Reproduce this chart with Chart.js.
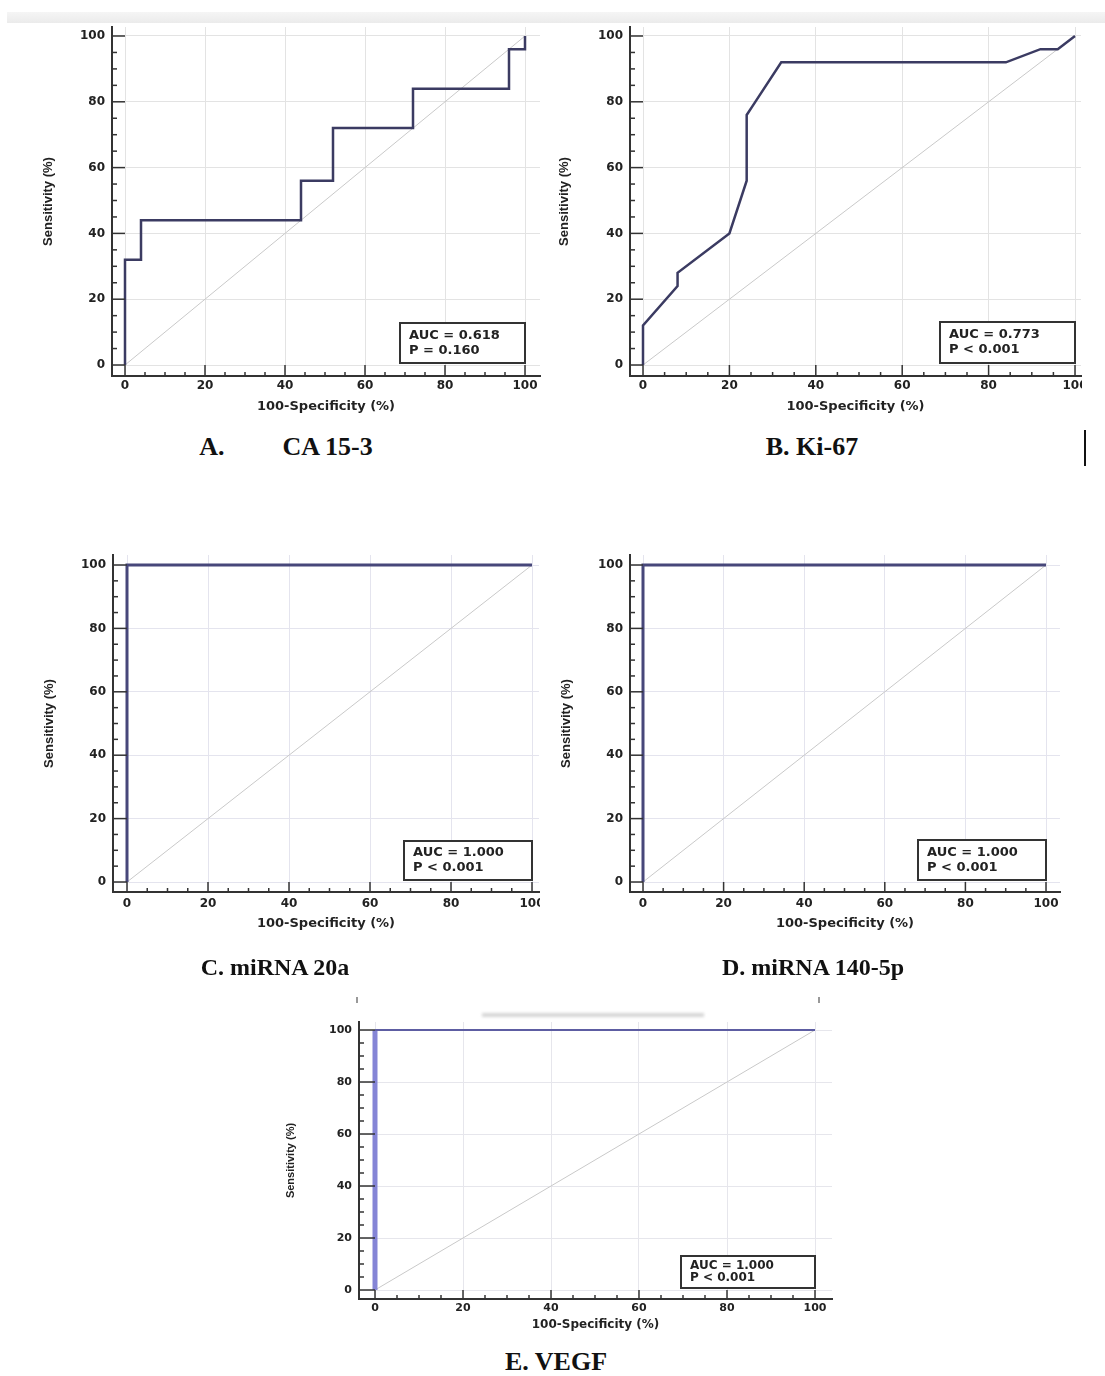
<!DOCTYPE html>
<html>
<head>
<meta charset="utf-8">
<script src="https://cdn.jsdelivr.net/npm/chart.js@4.4.1/dist/chart.umd.min.js"></script>
<style>
  body { margin: 0; background: #fff; width: 1105px; height: 1376px; position: relative; overflow: hidden; }
  canvas { position: absolute; }
  .cap { position: absolute; font-family: "Liberation Serif", serif; font-weight: bold; color: #111; white-space: pre; transform: translateX(-50%); line-height: 1; }
  #band { position: absolute; left: 7px; right: 0; top: 12px; height: 11px; background: linear-gradient(#f5f5f5, #ebebeb); }
  #bar { position: absolute; left: 1084px; top: 430px; width: 2px; height: 36px; background: #111; }
  .fleck { position: absolute; background: #999; width: 2px; height: 6px; }
  #smudge { position: absolute; left: 482px; top: 1013px; width: 222px; height: 4px; background: #d6d6d6; filter: blur(1.5px); }
</style>
</head>
<body>
<div id="band"></div>
<div id="bar"></div>
<div class="fleck" style="left:356px;top:997px"></div>
<div class="fleck" style="left:818px;top:997px"></div>
<div id="smudge"></div>

<canvas id="chartA" width="550" height="425" style="left:0px;top:0px"></canvas>
<canvas id="chartB" width="542" height="425" style="left:540px;top:0px"></canvas>
<canvas id="chartC" width="540" height="425" style="left:0px;top:530px"></canvas>
<canvas id="chartD" width="560" height="425" style="left:540px;top:530px"></canvas>
<canvas id="chartE" width="590" height="330" style="left:250px;top:1010px"></canvas>

<div class="cap" style="left:286px;top:434px;font-size:26px">A.<span style="display:inline-block;width:58px"></span>CA 15-3</div>
<div class="cap" style="left:812px;top:434px;font-size:26px">B. Ki-67</div>
<div class="cap" style="left:275px;top:955px;font-size:24px">C. miRNA 20a</div>
<div class="cap" style="left:813px;top:955px;font-size:24px">D. miRNA 140-5p</div>
<div class="cap" style="left:556px;top:1349px;font-size:26px">E. VEGF</div>

<script>
// ---- data ----
const tickValues = [0, 20, 40, 60, 80, 100];
const chanceX = [0, 100];
const chanceY = [0, 100];

const ca153X = [0, 0, 4, 4, 44, 44, 52, 52, 72, 72, 96, 96, 100, 100];
const ca153Y = [0, 32, 32, 44, 44, 56, 56, 72, 72, 84, 84, 96, 96, 100];

const ki67X = [0, 0, 8, 8, 20, 24, 24, 25.5, 32, 84, 92, 96, 100];
const ki67Y = [0, 12, 24, 28, 40, 56, 76, 79, 92, 92, 96, 96, 100];

const mir20aX = [0, 0, 100];
const mir20aY = [0, 100, 100];

const mir140X = [0, 0, 100];
const mir140Y = [0, 100, 100];

const vegfX = [0, 0, 100];
const vegfY = [0, 100, 100];

const aucText = ['AUC = 0.618', 'AUC = 0.773', 'AUC = 1.000', 'AUC = 1.000', 'AUC = 1.000'];
const pText = ['P = 0.160', 'P < 0.001', 'P < 0.001', 'P < 0.001', 'P < 0.001'];

const xTitle = '100-Specificity (%)';
const yTitle = 'Sensitivity (%)';

// ---- page layout of each panel (page pixels) ----
const panels = [
  { id: 'chartA', left: 0, top: 0, w: 550, h: 425, axisX: 112, x0: 125, x100: 525, right: 540,
    axisY: 376, y0: 365, y100: 36, topY: 27, tickCY: 386, titleCY: 407, yTitleCX: 48,
    box: [125, 40], curve: '#3b3b62', curveW: 2.5, grid: '#e3e3e3', tickFont: 12, boxFont: 13, titleFont: 13, yFont: 13,
    xs: ca153X, ys: ca153Y },
  { id: 'chartB', left: 540, top: 0, w: 542, h: 425, axisX: 630, x0: 643, x100: 1075, right: 1081,
    axisY: 376, y0: 365, y100: 36, topY: 27, tickCY: 386, titleCY: 407, yTitleCX: 564,
    box: [135, 41], curve: '#3b3b62', curveW: 2.5, grid: '#e3e3e3', tickFont: 12, boxFont: 13, titleFont: 13, yFont: 13,
    xs: ki67X, ys: ki67Y },
  { id: 'chartC', left: 0, top: 530, w: 540, h: 425, axisX: 113, x0: 127, x100: 532, right: 539,
    axisY: 892, y0: 882, y100: 565, topY: 555, tickCY: 904, titleCY: 924, yTitleCX: 49,
    box: [128, 39], curve: '#47477a', curveW: 3, grid: '#e4e4ee', tickFont: 12, boxFont: 13, titleFont: 13, yFont: 13,
    xs: mir20aX, ys: mir20aY },
  { id: 'chartD', left: 540, top: 530, w: 560, h: 425, axisX: 630, x0: 643, x100: 1046, right: 1060,
    axisY: 892, y0: 882, y100: 565, topY: 555, tickCY: 904, titleCY: 924, yTitleCX: 566,
    box: [128, 40], curve: '#47477a', curveW: 3, grid: '#e4e4ee', tickFont: 12, boxFont: 13, titleFont: 13, yFont: 13,
    xs: mir140X, ys: mir140Y },
  { id: 'chartE', left: 250, top: 1010, w: 590, h: 330, axisX: 359, x0: 375, x100: 815, right: 832,
    axisY: 1299, y0: 1290, y100: 1030, topY: 1022, tickCY: 1308, titleCY: 1325, yTitleCX: 291,
    box: [134, 32], curve: '#5d5da2', curveW: 2, vertCurve: '#8585d6', vertW: 5, grid: '#e6e6ec',
    tickFont: 11, boxFont: 12, titleFont: 12, yFont: 11,
    xs: vegfX, ys: vegfY }
];

const axisColor = '#333';
const labelColor = '#222';

// inward tick marks and the AUC box
const rocDecor = {
  id: 'rocDecor',
  afterDatasetsDraw(chart, args, opts) {
    const { ctx, chartArea: ca } = chart;
    const x = chart.scales.x, y = chart.scales.y;
    ctx.save();
    ctx.strokeStyle = axisColor;
    ctx.lineWidth = 1.5;
    for (let v = 0; v <= 100; v += 5) {
      const major = v % 20 === 0;
      const px = x.getPixelForValue(v);
      const lx = major ? ca.bottom - y.getPixelForValue(0) : 4;
      ctx.beginPath(); ctx.moveTo(px, ca.bottom); ctx.lineTo(px, ca.bottom - lx); ctx.stroke();
      const py = y.getPixelForValue(v);
      const ly = major ? x.getPixelForValue(0) - ca.left : 5;
      ctx.beginPath(); ctx.moveTo(ca.left, py); ctx.lineTo(ca.left + ly, py); ctx.stroke();
    }
    const [bw, bh] = opts.box;
    const bx = x.getPixelForValue(100) - bw;
    const by = y.getPixelForValue(0) - 2 - bh;
    ctx.fillStyle = '#fff';
    ctx.fillRect(bx, by, bw, bh);
    ctx.lineWidth = 2;
    ctx.strokeRect(bx, by, bw, bh);
    ctx.fillStyle = labelColor;
    ctx.font = 'bold ' + opts.boxFont + 'px "DejaVu Sans"';
    ctx.textBaseline = 'middle';
    ctx.textAlign = 'left';
    const gap = bh > 35 ? 15 : 12;
    const mid = by + bh / 2;
    ctx.fillText(opts.auc, bx + 9, mid - gap / 2);
    ctx.fillText(opts.p, bx + 9, mid + gap / 2);
    ctx.restore();
  }
};

panels.forEach((p, i) => {
  const pxX = (p.x100 - p.x0) / 100;
  const pxY = (p.y0 - p.y100) / 100;
  const xMin = -(p.x0 - p.axisX) / pxX;
  const xMax = 100 + (p.right - p.x100) / pxX;
  const yMin = -(p.axisY - p.y0) / pxY;
  const yMax = 100 + (p.y100 - p.topY) / pxY;
  const tickLH = p.tickFont * 1.2;
  const titleLH = p.titleFont * 1.2;
  const yLH = p.yFont * 1.2;
  const canvasBottom = p.top + p.h;

  // vertical pieces of the VEGF curve are drawn wider and lighter
  const isVert = c => c.p0.parsed.x === c.p1.parsed.x;
  const segment = p.vertCurve ? {
    borderColor: c => isVert(c) ? p.vertCurve : p.curve,
    borderWidth: c => isVert(c) ? p.vertW : p.curveW
  } : undefined;

  const ctx = document.getElementById(p.id).getContext('2d');
  new Chart(ctx, {
    type: 'scatter',
    data: {
      datasets: [
        { data: p.xs.map((v, k) => ({ x: v, y: p.ys[k] })), showLine: true, borderColor: p.curve,
          borderWidth: p.curveW, pointRadius: 0, tension: 0, borderJoinStyle: 'miter', segment: segment },
        { data: chanceX.map((v, k) => ({ x: v, y: chanceY[k] })), showLine: true, borderColor: '#c9c9c9',
          borderWidth: 1, pointRadius: 0 }
      ]
    },
    options: {
      responsive: false,
      animation: false,
      events: [],
      layout: { padding: { top: p.topY - p.top, right: p.left + p.w - p.right, left: 0, bottom: 0 } },
      plugins: {
        legend: { display: false },
        tooltip: { enabled: false },
        rocDecor: { box: p.box, auc: aucText[i], p: pText[i], boxFont: p.boxFont }
      },
      scales: {
        x: {
          type: 'linear', min: xMin, max: xMax,
          afterBuildTicks: s => { s.ticks = tickValues.map(v => ({ value: v })); },
          afterFit: s => { s.height = canvasBottom - p.axisY; s.paddingLeft = 0; s.paddingRight = 0; },
          ticks: { color: labelColor, padding: p.tickCY - p.axisY - tickLH / 2,
                   font: { family: 'DejaVu Sans', weight: 'bold', size: p.tickFont }, maxRotation: 0, autoSkip: false },
          grid: { color: p.grid, lineWidth: 1, drawTicks: false },
          border: { display: true, color: axisColor, width: 2 },
          title: { display: true, text: xTitle, color: labelColor,
                   font: { family: 'DejaVu Sans', weight: 'bold', size: p.titleFont },
                   padding: { top: 0, bottom: canvasBottom - p.titleCY - titleLH / 2 } }
        },
        y: {
          type: 'linear', min: yMin, max: yMax,
          afterBuildTicks: s => { s.ticks = tickValues.map(v => ({ value: v })); },
          afterFit: s => { s.width = p.axisX - p.left; s.paddingTop = 0; s.paddingBottom = 0; },
          ticks: { color: labelColor, padding: 7,
                   font: { family: 'DejaVu Sans', weight: 'bold', size: p.tickFont }, autoSkip: false },
          grid: { color: p.grid, lineWidth: 1, drawTicks: false },
          border: { display: true, color: axisColor, width: 2 },
          title: { display: true, text: yTitle, color: labelColor,
                   font: { family: 'Liberation Sans', weight: 'bold', size: p.yFont },
                   padding: { top: p.yTitleCX - p.left - yLH / 2, bottom: 0 } }
        }
      }
    },
    plugins: [rocDecor]
  });
});
</script>
</body>
</html>
